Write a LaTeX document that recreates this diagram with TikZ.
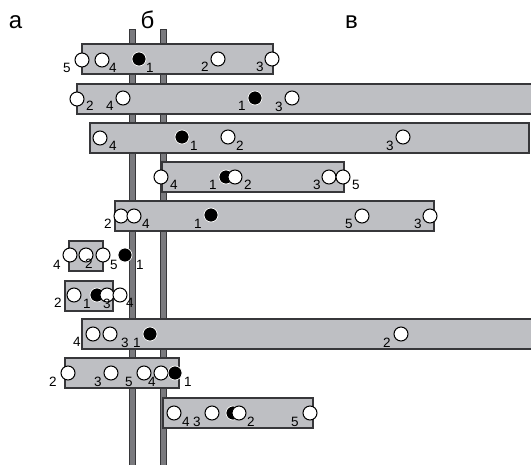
\documentclass[tikz,border=0pt]{standalone}
\usepackage{fontspec}
\setmainfont{Liberation Sans}
\usepackage{tikz}
\usetikzlibrary{calc}
\definecolor{bargray}{RGB}{190,191,195}
\definecolor{rodgray}{RGB}{122,122,126}
\definecolor{edgegray}{RGB}{55,55,58}
\tikzset{%
  mybar/.style={fill=bargray, draw=edgegray, line width=1.1pt},
  myrod/.style={fill=rodgray, draw=edgegray, line width=0.8pt},
  ballw/.style={circle, fill=white, draw=black, line width=1pt, inner sep=0pt, minimum size=14pt},
  ballb/.style={circle, fill=black, draw=white, line width=0.7pt, inner sep=0pt, minimum size=14pt},
  mylab/.style={font=\fontsize{13.5}{14}\selectfont, inner sep=0pt},
  myletter/.style={font=\fontsize{24}{26}\selectfont, inner sep=0pt, anchor=base}
}

\begin{document}
\begin{tikzpicture}[x=1pt, y=-1pt]
\useasboundingbox (0,0) rectangle (531,464);

% rods
\foreach \x in {129,160} {
  \draw [myrod] (\x,29) rectangle (\x+6,467);
}

% bars
\foreach \xa/\ya/\xb in {82/44/273, 77/84/534, 90/123/529, 162/162/344, 115/201/434,
                         69/241/103, 65/281/113, 82/319/534, 65/358/179, 163/398/313} {
  \draw [mybar] (\xa,\ya) rectangle (\xb,\ya+30);
}

% balls
\foreach \x/\y/\s [count=\i] in {82/60/w, 102/60/w, 139/59/b, 218/59/w, 272/59/w,
                                 77/99/w, 123/98/w, 255/98/b, 292/98/w,
                                 100/138/w, 182/137/b, 228/137/w, 403/137/w,
                                 161/177/w, 226/177/b, 235/177/w, 329/177/w, 343/177/w,
                                 121/216/w, 134/216/w, 211/215/b, 362/216/w, 430/216/w,
                                 70/255/w, 86/255/w, 103/255/w, 125/255/b,
                                 74/295/w, 97/295/b, 107/295/w, 120/295/w,
                                 93/334/w, 110/334/w, 150/334/b, 401/334/w,
                                 68/373/w, 111/373/w, 144/373/w, 161/373/w, 175/373/b,
                                 174/413/w, 212/413/w, 233/413/b, 239/413/w, 310/413/w} {
  \node [ball\s] (B\i) at (\x,\y) {};
}

% numbers
\foreach \x/\y/\t [count=\i] in {67/68/5, 113/68/4, 150/68/1, 205/67/2, 260/67/3,
                                 90/106/2, 110/106/4, 242/106/1, 279/107/3,
                                 113/146/4, 194/146/1, 240/146/2, 390/146/3,
                                 174/185/4, 213/185/1, 248/185/2, 317/185/3, 356/185/5,
                                 108/224/2, 146/224/4, 198/224/1, 349/224/5, 418/224/3,
                                 57/265/4, 89/264/2, 114/265/5, 140/265/1,
                                 58/303/2, 87/304/1, 107/304/3, 130/303/4,
                                 77/342/4, 125/343/3, 137/343/1, 387/343/2,
                                 53/382/2, 98/382/3, 129/382/5, 152/382/4, 188/382/1,
                                 186/422/4, 197/422/3, 251/422/2, 295/422/5} {
  \node [mylab] (N\i) at (\x,\y) {\t};
}

% letters
\node [myletter] (La) at (15.5,28) {а};
\node [myletter] (Lb) at (147.5,28) {б};
\node [myletter] (Lc) at (351.5,28) {в};

\end{tikzpicture}
\end{document}
